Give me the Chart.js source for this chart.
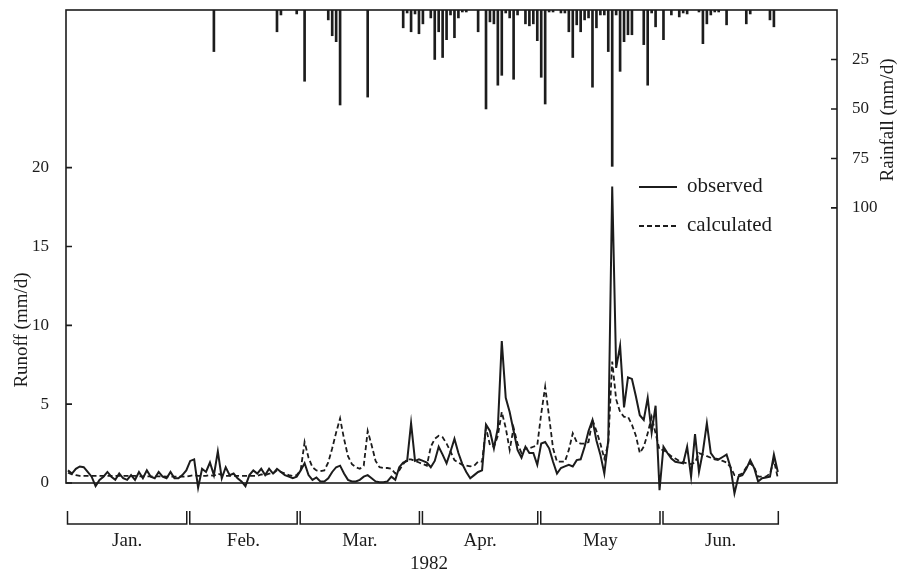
<!DOCTYPE html>
<html>
<head>
<meta charset="utf-8">
<script src="https://cdn.jsdelivr.net/npm/chart.js@4.4.1/dist/chart.umd.min.js"></script>
<style>
  html, body { margin: 0; padding: 0; background: #fff; }
  canvas { display: block; }
</style>
</head>
<body>
<canvas id="runoffChart" width="899" height="576"></canvas>
<script>
// daily runoff, Jan 1 .. Jun 30 1982 (mm/d)
const observed = [
    0.8, 0.6, 0.9, 1.05, 1.0, 0.7, 0.4, -0.2, 0.2, 0.4, 0.7, 0.4, 0.2, 0.6, 0.3, 0.2,
    0.5, 0.2, 0.7, 0.3, 0.8, 0.4, 0.3, 0.7, 0.4, 0.3, 0.7, 0.3, 0.3, 0.5, 0.8,          // Jan
    1.4, 1.5, -0.3, 0.9, 0.7, 1.3, 0.5, 2.0, 0.3, 1.0, 0.5, 0.6, 0.3, 0.1,
    -0.2, 0.5, 0.8, 0.6, 0.9, 0.5, 0.9, 0.6, 0.9, 0.7, 0.5, 0.4, 0.3, 0.4,             // Feb
    0.8, 1.25, 0.5, 0.2, 0.35, 0.1, 0.1, 0.3, 0.7, 1.0, 1.1, 0.6, 0.2, 0.1, 0.1, 0.2,
    0.4, 0.5, 0.3, 0.1, 0.05, 0.05, 0.1, 0.4, 0.2, 1.0, 1.3, 1.4, 3.8, 1.4, 1.5,       // Mar
    1.4, 1.3, 1.0, 1.4, 2.3, 1.8, 1.25, 2.0, 2.8, 1.9, 1.2, 0.7, 0.3, 0.5, 0.7,
    0.8, 3.7, 3.3, 2.2, 3.5, 9.0, 5.4, 4.5, 3.3, 2.1, 1.6, 2.3, 1.9, 1.9, 1.15,        // Apr
    2.5, 2.6, 2.2, 1.35, 0.6, 0.95, 1.05, 1.15, 1.05, 1.45, 1.5, 2.3, 3.3, 4.0, 2.7, 1.8,
    0.6, 2.7, 18.8, 7.3, 8.7, 4.8, 6.7, 6.6, 5.5, 4.3, 4.0, 5.4, 3.2, 4.9, -0.45,      // May
    2.3, 1.9, 1.55, 1.35, 1.3, 1.25, 2.3, 0.4, 3.1, 0.7, 2.0, 3.8, 1.9, 1.55, 1.5,
    1.65, 1.8, 1.0, -0.65, 0.4, 0.5, 0.9, 1.45, 0.95, 0.1, 0.3, 0.35, 0.4, 1.8, 0.7    // Jun
];
const calculated = [
    0.65, 0.55, 0.5, 0.45, 0.45, 0.45, 0.45, 0.45, 0.45, 0.45, 0.45, 0.45, 0.45, 0.45, 0.45, 0.45,
    0.45, 0.45, 0.42, 0.42, 0.42, 0.42, 0.42, 0.42, 0.42, 0.4, 0.4, 0.4, 0.4, 0.4, 0.4,  // Jan
    0.45, 0.5, 0.45, 0.45, 0.45, 0.5, 0.45, 0.6, 0.5, 0.45, 0.45, 0.45, 0.45, 0.45,
    0.45, 0.45, 0.45, 0.45, 0.55, 0.5, 0.6, 0.6, 0.8, 0.7, 0.6, 0.5, 0.45, 0.5,        // Feb
    0.8, 2.6, 1.6, 1.0, 0.8, 0.75, 0.8, 1.3, 2.2, 3.2, 4.1, 2.8, 1.7, 1.2, 1.0, 0.9,
    1.1, 3.3, 2.4, 1.4, 1.0, 0.95, 0.95, 0.9, 0.6, 0.8, 1.2, 1.5, 1.5, 1.4, 1.3,       // Mar
    1.2, 1.1, 2.3, 2.8, 3.0, 2.9, 2.5, 2.0, 1.45, 1.3, 1.15, 1.1, 1.05, 1.1, 1.35,
    1.35, 3.5, 2.4, 2.3, 3.0, 4.5, 3.5, 2.1, 3.5, 2.5, 1.9, 2.2, 2.2, 2.3, 2.4,        // Apr
    4.4, 6.1, 4.2, 2.2, 1.35, 1.35, 1.35, 2.1, 3.15, 2.6, 2.5, 2.5, 2.6, 4.0, 3.3, 2.5,
    1.55, 2.5, 7.7, 5.3, 4.5, 4.2, 4.2, 3.7, 3.0, 1.9, 2.3, 3.15, 4.2, 3.15, 2.1,      // May
    2.1, 1.9, 1.7, 1.55, 1.4, 1.3, 1.25, 1.2, 1.3, 1.9, 1.8, 1.7, 1.6, 1.5, 1.45,
    1.4, 1.3, 1.0, 0.5, 0.5, 0.6, 1.0, 1.25, 1.0, 0.4, 0.4, 0.4, 0.6, 1.45, 0.3        // Jun
];

// daily rainfall: day of year (0 = Jan 1) and amount (mm/d); other days dry
const rainDay = [37, 53, 54, 58, 60, 66, 67, 68, 69, 76,
    85, 86, 87, 88, 89, 90, 92, 93, 94, 95, 96, 97, 98, 99, 100, 101,
    104, 106, 107, 108, 109, 110, 111, 112, 113, 114, 116, 117, 118, 119, 120, 121, 122, 123,
    125, 126, 127, 128, 129, 130, 131, 132, 133, 134, 135, 136, 137, 138, 139, 140, 141, 142, 143,
    146, 147, 148, 149, 151, 153, 155, 156, 157, 160, 161, 162, 163, 164, 165, 167, 172, 173, 178, 179];
const rainMm = [21, 11, 2.5, 2, 36, 5, 13, 16, 48, 44,
    9, 1.5, 11, 2, 12, 7, 4, 25, 11, 24, 15, 2.5, 14, 4, 1, 1,
    11, 50, 6, 7, 38, 33, 1.5, 4, 35, 2.5, 7, 8, 7, 15.5, 34, 47.5, 1, 1,
    1.5, 1.5, 11, 24, 7.5, 11, 5, 4, 39, 9, 2.5, 2.5, 21, 79, 2.5, 31, 16, 12.5, 12.5,
    17.5, 38, 1.5, 8.5, 15, 2.5, 3.5, 1.5, 2, 1, 17, 7, 2.5, 1, 1, 7.5, 7, 2, 5, 8.5];

const months = ['Jan.', 'Feb.', 'Mar.', 'Apr.', 'May', 'Jun.'];
const monthStart = [0, 31, 59, 90, 120, 151, 181];
const runoffTicks = [0, 5, 10, 15, 20];
const rainTicks = [25, 50, 75, 100];

const INK = '#1c1c1c';
const FONT = "'Liberation Serif', 'DejaVu Serif', serif";

// extra drawing: frame, inner tick marks, month brackets, titles, legend
const decorations = {
    id: 'decorations',
    afterDraw(chart) {
        const { ctx, chartArea: a, scales } = chart;
        const x = scales.x, y = scales.y, y2 = scales.y2;
        ctx.save();
        ctx.strokeStyle = INK;
        ctx.fillStyle = INK;
        ctx.lineWidth = 1.6;
        ctx.strokeRect(a.left, a.top, a.right - a.left, a.bottom - a.top);

        // tick marks point into the plot
        ctx.beginPath();
        runoffTicks.forEach(v => {
            const p = y.getPixelForValue(v);
            ctx.moveTo(a.left, p); ctx.lineTo(a.left + 6, p);
        });
        rainTicks.forEach(v => {
            const p = y2.getPixelForValue(v);
            ctx.moveTo(a.right - 6, p); ctx.lineTo(a.right, p);
        });
        ctx.stroke();

        // month brackets under the plot
        ctx.lineWidth = 1.5;
        ctx.font = '19px ' + FONT;
        ctx.textAlign = 'center';
        ctx.textBaseline = 'middle';
        for (let i = 0; i < months.length; i++) {
            const x0 = x.getPixelForValue(monthStart[i]) + 1.5;
            const x1 = x.getPixelForValue(monthStart[i + 1]) - 1.5;
            ctx.beginPath();
            ctx.moveTo(x0, a.bottom + 28);
            ctx.lineTo(x0, a.bottom + 41);
            ctx.lineTo(x1, a.bottom + 41);
            ctx.lineTo(x1, a.bottom + 28);
            ctx.stroke();
            ctx.fillText(months[i], (x0 + x1) / 2, a.bottom + 58);
        }
        ctx.fillText('1982', x.getPixelForValue(monthStart[6] / 2) + 6, a.bottom + 81);

        // axis titles
        ctx.font = '19px ' + FONT;
        ctx.save();
        ctx.translate(22, 330);
        ctx.rotate(-Math.PI / 2);
        ctx.fillText('Runoff (mm/d)', 0, 0);
        ctx.restore();
        ctx.save();
        ctx.translate(888, 120);
        ctx.rotate(-Math.PI / 2);
        ctx.fillText('Rainfall (mm/d)', 0, 0);
        ctx.restore();

        // legend
        ctx.font = '21px ' + FONT;
        ctx.textAlign = 'left';
        ctx.lineWidth = 2;
        ctx.beginPath();
        ctx.moveTo(639, 187); ctx.lineTo(677, 187);
        ctx.stroke();
        ctx.setLineDash([5, 3]);
        ctx.beginPath();
        ctx.moveTo(639, 226); ctx.lineTo(679, 226);
        ctx.stroke();
        ctx.setLineDash([]);
        ctx.fillText('observed', 687, 186);
        ctx.fillText('calculated', 687, 225);
        ctx.restore();
    }
};

document.addEventListener("DOMContentLoaded", function() {
    const ctx = document.getElementById('runoffChart').getContext('2d');
    const runoffChart = new Chart(ctx, {
        type: 'line',
        data: {
            datasets: [
                {
                    label: 'observed',
                    data: observed.map((v, i) => ({ x: i + 0.5, y: v })),
                    borderColor: INK,
                    borderWidth: 2,
                    pointRadius: 0,
                    tension: 0,
                    clip: false,
                    yAxisID: 'y',
                    order: 1
                },
                {
                    label: 'calculated',
                    data: calculated.map((v, i) => ({ x: i + 0.5, y: v })),
                    borderColor: INK,
                    borderWidth: 1.8,
                    borderDash: [5, 3],
                    pointRadius: 0,
                    tension: 0,
                    clip: false,
                    yAxisID: 'y',
                    order: 2
                },
                {
                    type: 'bar',
                    label: 'rainfall',
                    data: rainDay.map((d, i) => ({ x: d + 0.5, y: rainMm[i] })),
                    backgroundColor: INK,
                    barThickness: 2,
                    yAxisID: 'y2',
                    order: 3
                }
            ]
        },
        options: {
            responsive: false,
            animation: false,
            layout: { padding: { top: 10, bottom: 93, left: 0, right: 0 } },
            scales: {
                x: {
                    type: 'linear',
                    offset: false,
                    min: 0,
                    max: 195.5,
                    display: false
                },
                y: {
                    position: 'left',
                    min: 0,
                    max: 30,
                    afterBuildTicks: axis => { axis.ticks = runoffTicks.map(v => ({ value: v })); },
                    afterFit: axis => { axis.width = 66; axis.paddingTop = 0; axis.paddingBottom = 0; },
                    grid: { display: false },
                    border: { display: false },
                    ticks: { color: INK, padding: 9, font: { family: FONT, size: 17 } }
                },
                y2: {
                    position: 'right',
                    reverse: true,
                    min: 0,
                    max: 239,
                    afterBuildTicks: axis => { axis.ticks = rainTicks.map(v => ({ value: v })); },
                    afterFit: axis => { axis.width = 62; axis.paddingTop = 0; axis.paddingBottom = 0; },
                    grid: { display: false },
                    border: { display: false },
                    ticks: { color: INK, padding: 7, font: { family: FONT, size: 17 } }
                }
            },
            plugins: {
                legend: { display: false },
                tooltip: { enabled: false }
            }
        },
        plugins: [decorations]
    });
});
</script>
</body>
</html>
